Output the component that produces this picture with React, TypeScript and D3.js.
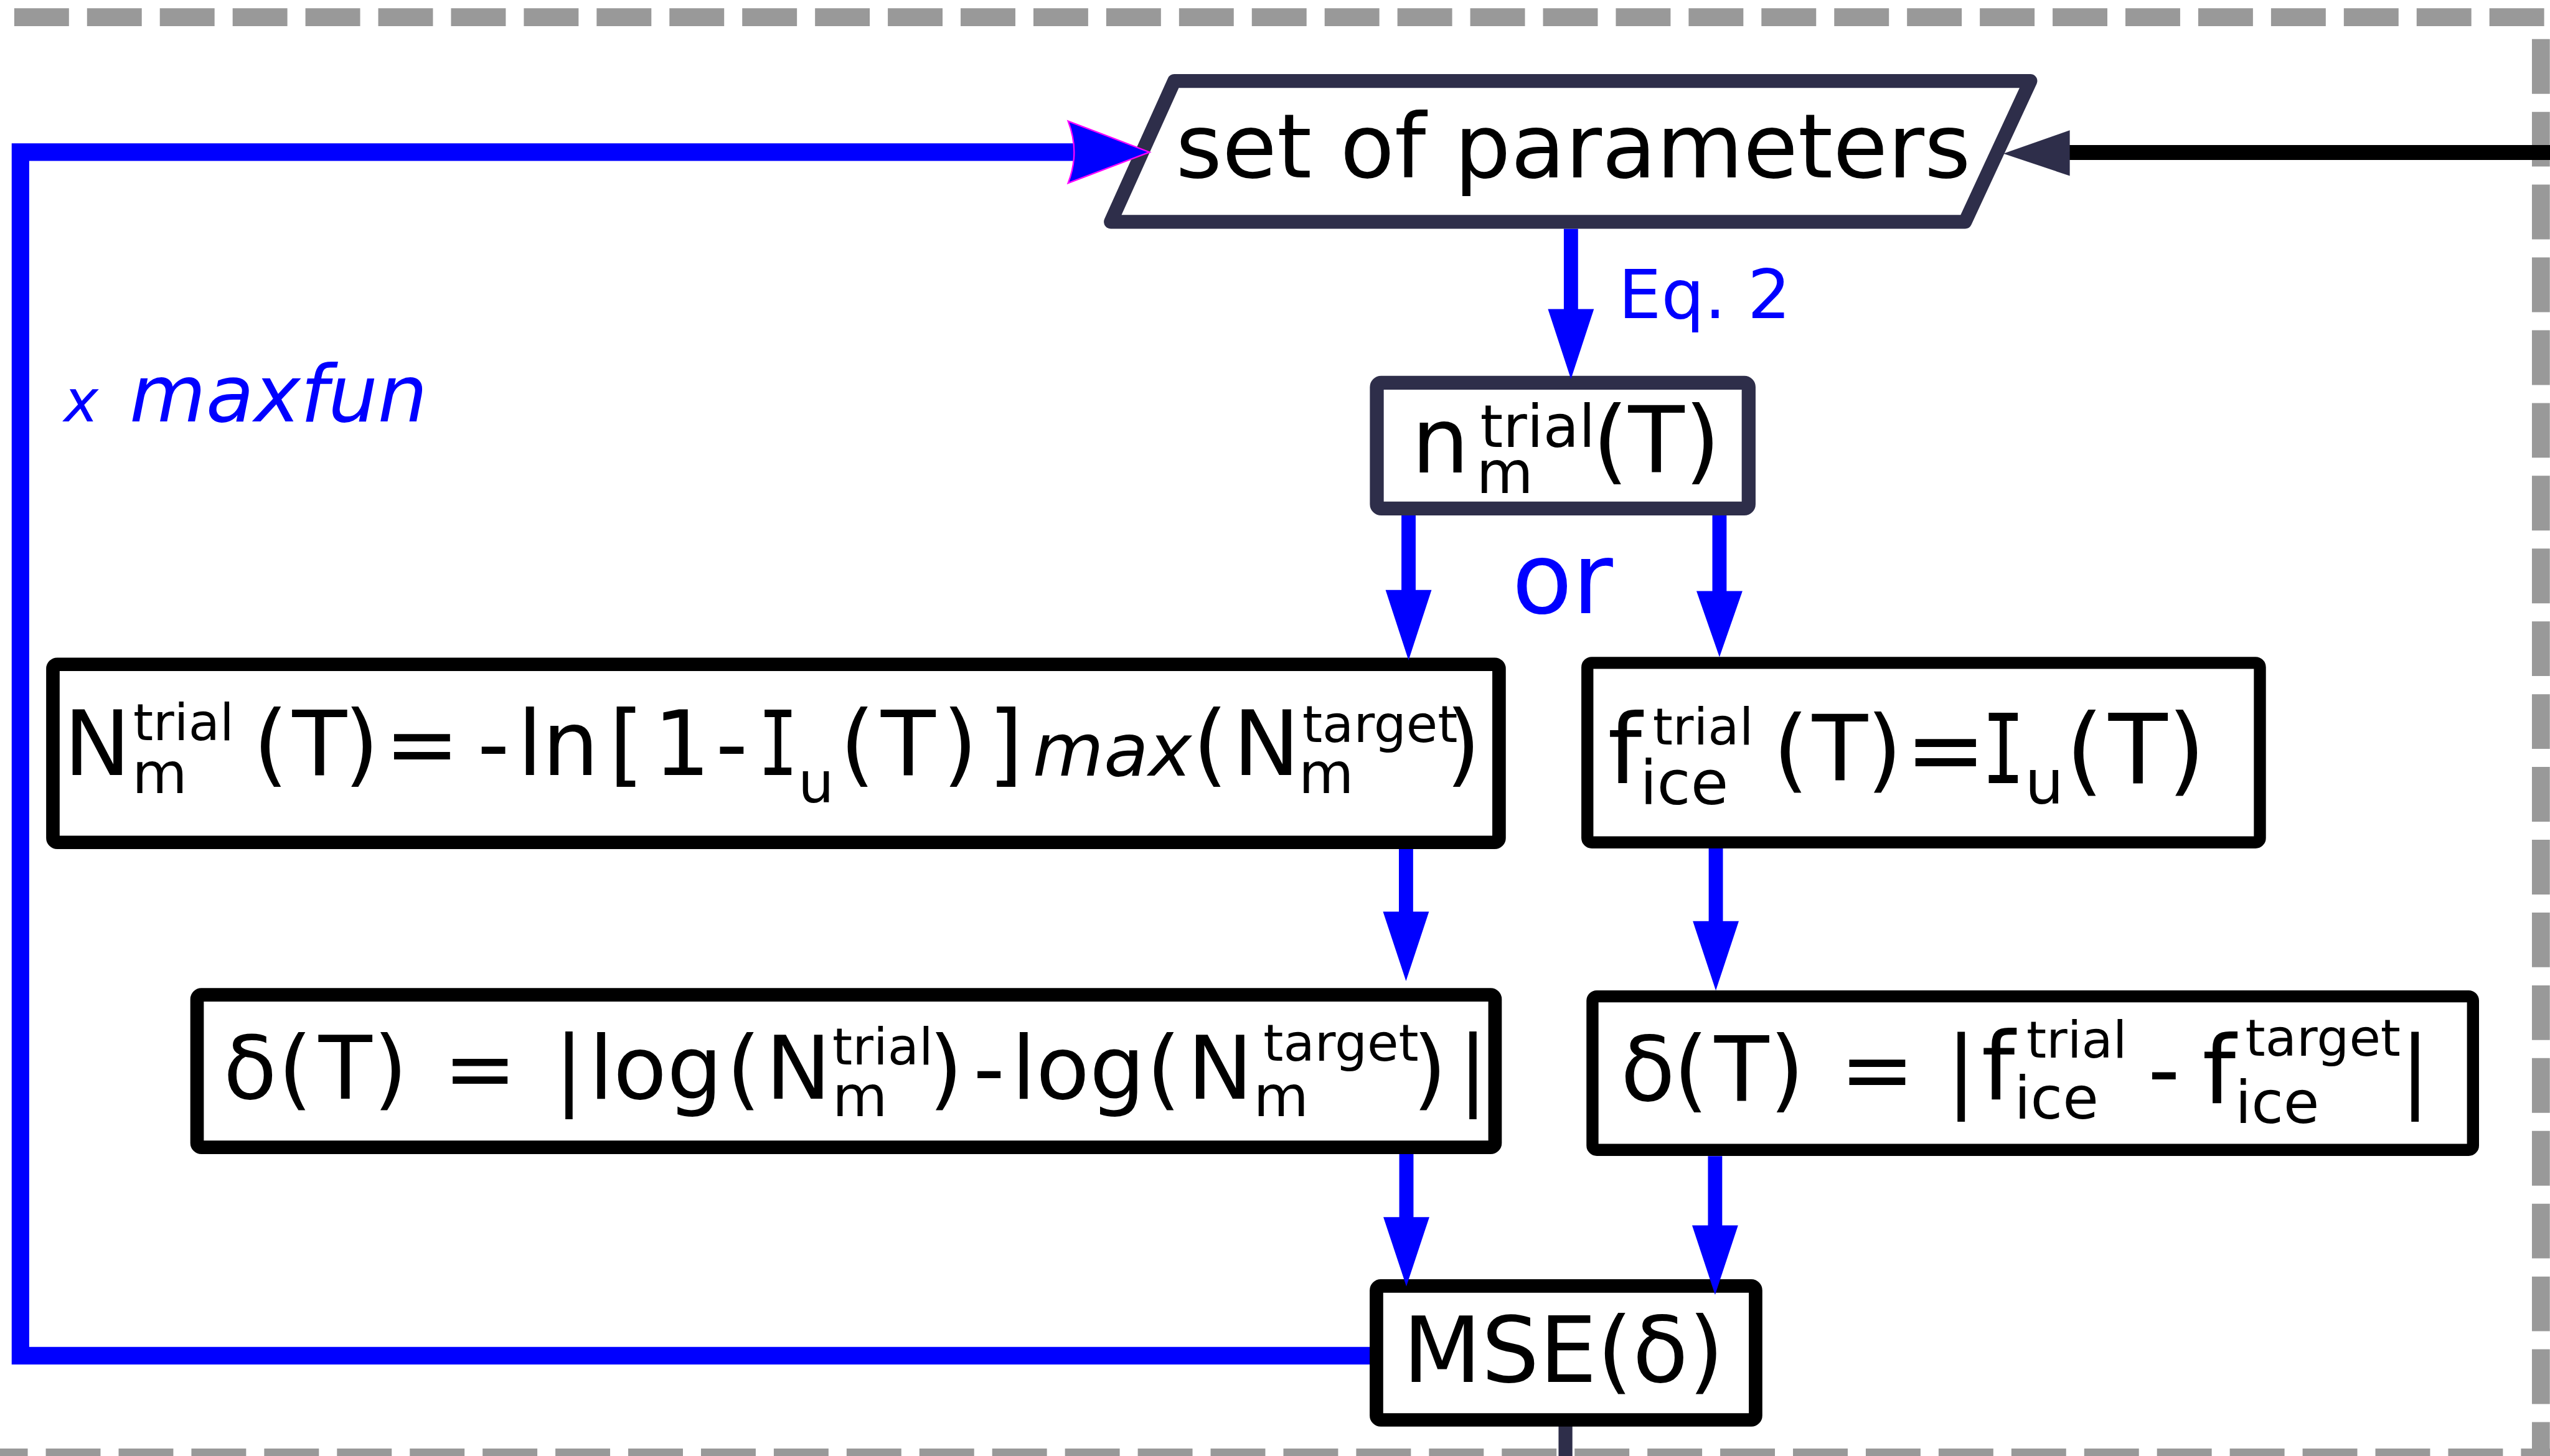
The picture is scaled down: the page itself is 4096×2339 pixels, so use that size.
import React, { useEffect, useRef } from "react";
import * as d3 from "d3";

const W = 4096;
const H = 2339;
const REF_W = 6988;
const REF_H = 3991;

const BLUE = "#0000ff";
const NAVY = "#2e2e4a";
const GREY = "#999999";
const MAGENTA = "#ff00ff";

// rounded boxes, centre line of the stroke in reference px
const boxes = [
  { id: "n", x0: 3773, y0: 1049, x1: 4792, y1: 1394, color: NAVY, sw: 38 },
  { id: "Ntrial", x0: 145, y0: 1821, x1: 4108, y1: 2309, color: "#000", sw: 37 },
  { id: "ftrial", x0: 4350, y0: 1817, x1: 6193, y1: 2309, color: "#000", sw: 33 },
  { id: "deltaN", x0: 540, y0: 2727, x1: 4097, y1: 3145, color: "#000", sw: 37 },
  { id: "deltaF", x0: 4364, y0: 2731, x1: 6777, y1: 3152, color: "#000", sw: 33 },
  { id: "mse", x0: 3772, y0: 3525, x1: 4811, y1: 3892, color: "#000", sw: 37 },
];

// "set of parameters" parallelogram
const paramShape = [
  [3218, 222],
  [5564, 222],
  [5385, 608],
  [3044, 608],
];

// blue down arrows: shaft from y0 to base, head to tip
const downArrows = [
  { x: 4305, y0: 627, base: 847, tip: 1039 },
  { x: 3860, y0: 1413, base: 1617, tip: 1810 },
  { x: 4712, y0: 1413, base: 1620, tip: 1801 },
  { x: 3853, y0: 2327, base: 2499, tip: 2689 },
  { x: 4702, y0: 2325, base: 2525, tip: 2715 },
  { x: 3854, y0: 3163, base: 3336, tip: 3526 },
  { x: 4700, y0: 3169, base: 3359, tip: 3549 },
];

// maxfun loop back to the parameters
const loopPts = [
  [2945, 417],
  [56, 417],
  [56, 3716],
  [3760, 3716],
];

// dashed frame pieces
const frameLines = [
  { pts: [[39, 47], [6988, 47]] },
  { pts: [[6963, 107], [6963, 3991]] },
  { pts: [[-74, 3995], [6988, 3995]] },
];

// text runs: [text, x, baseline, size, style]
const paramText = [["set of parameters", 3222, 487, 244]];
const nText = [
  ["n", 3868, 1295, 250],
  ["trial", 4056, 1225, 160],
  ["m", 4046, 1351, 160],
  ["(T)", 4364, 1295, 252],
];
const NText = [
  ["N", 175, 2125, 245],
  ["trial", 365, 2029, 140],
  ["m", 362, 2174, 155],
  ["(", 694, 2125, 245],
  ["T", 801, 2125, 245],
  [")", 943, 2125, 245],
  ["=", 1054, 2125, 245],
  ["-", 1308, 2125, 245],
  ["ln", 1418, 2125, 245],
  ["[", 1669, 2125, 245],
  ["1", 1791, 2125, 245],
  ["-", 1961, 2125, 245],
  ["I", 2132, 2125, 245, "mono"],
  ["u", 2187, 2200, 155],
  ["(", 2302, 2125, 245],
  ["T", 2414, 2125, 245],
  [")", 2583, 2125, 245],
  ["]", 2708, 2125, 245],
  ["max", 2830, 2126, 200, "i"],
  ["(", 3269, 2125, 245],
  ["N", 3379, 2125, 245],
  ["target", 3569, 2034, 140],
  ["m", 3559, 2174, 155],
  [")", 3962, 2125, 245],
];
const fText = [
  ["f", 4406, 2146, 265],
  ["trial", 4529, 2041, 140],
  ["ice", 4494, 2204, 168],
  ["(", 4859, 2140, 250],
  ["T", 4966, 2140, 250],
  [")", 5115, 2140, 250],
  ["=", 5221, 2146, 265],
  ["I", 5490, 2146, 265, "mono"],
  ["u", 5549, 2202, 168],
  ["(", 5661, 2146, 265],
  ["T", 5778, 2146, 265],
  [")", 5940, 2146, 265],
];
const dNText = [
  ["δ", 612, 3012, 240],
  ["(", 762, 3012, 240],
  ["T", 873, 3012, 240],
  [")", 1023, 3012, 240],
  ["=", 1215, 3012, 240],
  ["|", 1519, 3012, 240],
  ["log", 1614, 3012, 240],
  ["(", 1991, 3012, 240],
  ["N", 2098, 3012, 240],
  ["trial", 2281, 2917, 140],
  ["m", 2281, 3060, 155],
  [")", 2545, 3012, 240],
  ["-", 2667, 3012, 240],
  ["log", 2772, 3012, 240],
  ["(", 3142, 3012, 240],
  ["N", 3254, 3012, 240],
  ["target", 3462, 2908, 140],
  ["m", 3435, 3060, 155],
  [")", 3871, 3012, 240],
  ["|", 3996, 3012, 240],
];
const dFText = [
  ["δ", 4441, 3017, 245],
  ["(", 4586, 3017, 245],
  ["T", 4698, 3017, 245],
  [")", 4849, 3017, 245],
  ["=", 5042, 3017, 245],
  ["|", 5333, 3017, 245],
  ["f", 5430, 3013, 260],
  ["trial", 5553, 2899, 140],
  ["ice", 5520, 3067, 160],
  ["-", 5886, 3017, 245],
  ["f", 6035, 3024, 260],
  ["target", 6153, 2894, 140],
  ["ice", 6125, 3078, 160],
  ["|", 6577, 3017, 245],
];
const mseText = [["MSE(δ)", 3844, 3788, 250]];
const blueLabels = [
  ["Eq. 2", 4435, 872, 186],
  ["or", 4143, 1680, 271],
  ["x", 175, 1156, 160, "i"],
  ["maxfun", 355, 1156, 215, "i"],
];

export default function App() {
  const svgRef = useRef<SVGSVGElement>(null);

  useEffect(() => {
    const svg = d3.select(svgRef.current);
    svg.selectAll("*").remove();

    const x = d3.scaleLinear().domain([0, REF_W]).range([0, W]);
    const y = d3.scaleLinear().domain([0, REF_H]).range([0, H]);
    const k = W / REF_W;
    const line = d3
      .line<number[]>()
      .x((d) => x(d[0]))
      .y((d) => y(d[1]));

    svg.append("rect").attr("width", W).attr("height", H).attr("fill", "#fff");

    // dashed frame
    frameLines.forEach((f) => {
      svg
        .append("path")
        .attr("d", line(f.pts))
        .attr("fill", "none")
        .attr("stroke", GREY)
        .attr("stroke-width", 49 * k)
        .attr("stroke-dasharray", `${150 * k} ${49.5 * k}`);
    });

    // loop line
    svg
      .append("path")
      .attr("d", line(loopPts))
      .attr("fill", "none")
      .attr("stroke", BLUE)
      .attr("stroke-width", 48 * k)
      .attr("stroke-linejoin", "miter");

    // line coming in from the right
    svg
      .append("path")
      .attr("d", line([[5660, 418], [6988, 418]]))
      .attr("stroke", "#000")
      .attr("stroke-width", 41 * k);

    // line leaving MSE downward
    svg
      .append("path")
      .attr("d", line([[4290, 3905], [4290, 3991]]))
      .attr("stroke", NAVY)
      .attr("stroke-width", 38 * k);

    // arrow shafts
    downArrows.forEach((a) => {
      svg
        .append("path")
        .attr("d", line([[a.x, a.y0], [a.x, a.base + 2]]))
        .attr("stroke", BLUE)
        .attr("stroke-width", 39 * k);
    });

    // boxes
    boxes.forEach((b) => {
      svg
        .append("rect")
        .attr("x", x(b.x0))
        .attr("y", y(b.y0))
        .attr("width", x(b.x1) - x(b.x0))
        .attr("height", y(b.y1) - y(b.y0))
        .attr("rx", 12 * k)
        .attr("fill", "#fff")
        .attr("stroke", b.color)
        .attr("stroke-width", b.sw * k)
        .attr("stroke-linejoin", "round");
    });

    svg
      .append("path")
      .attr("d", line(paramShape) + "Z")
      .attr("fill", "#fff")
      .attr("stroke", NAVY)
      .attr("stroke-width", 38 * k)
      .attr("stroke-linejoin", "round");

    // arrow heads
    downArrows.forEach((a) => {
      const p = d3.path();
      p.moveTo(x(a.x - 63), y(a.base));
      p.lineTo(x(a.x + 63), y(a.base));
      p.lineTo(x(a.x), y(a.tip));
      p.closePath();
      svg.append("path").attr("d", p.toString()).attr("fill", BLUE);
    });

    const big = d3.path();
    big.moveTo(x(2927), y(332));
    big.lineTo(x(3150), y(417));
    big.lineTo(x(2927), y(502));
    big.quadraticCurveTo(x(2960), y(417), x(2927), y(332));
    big.closePath();
    svg
      .append("path")
      .attr("d", big.toString())
      .attr("fill", BLUE)
      .attr("stroke", MAGENTA)
      .attr("stroke-width", 4 * k);

    const back = d3.path();
    back.moveTo(x(5672), y(357));
    back.lineTo(x(5490), y(421));
    back.lineTo(x(5672), y(482));
    back.closePath();
    svg.append("path").attr("d", back.toString()).attr("fill", NAVY);

    // text
    const drawText = (runs: any[], color: string) => {
      runs.forEach((r) => {
        const style = r[4];
        if (style === "mono") {
          // serif capital I, narrowed to the width of the original glyph
          svg
            .append("text")
            .attr("transform", `translate(${x(r[1])},${y(r[2])}) scale(0.74,1)`)
            .attr("font-size", r[3] * k)
            .attr("font-family", "DejaVu Sans Mono")
            .attr("text-anchor", "middle")
            .attr("fill", color)
            .text(r[0]);
          return;
        }
        svg
          .append("text")
          .attr("x", x(r[1]))
          .attr("y", y(r[2]))
          .attr("font-size", r[3] * k)
          .attr("font-family", "DejaVu Sans")
          .attr("font-style", style === "i" ? "italic" : "normal")
          .attr("fill", color)
          .text(r[0]);
      });
    };

    [paramText, nText, NText, fText, dNText, dFText, mseText].forEach((t) =>
      drawText(t, "#000")
    );
    drawText(blueLabels, BLUE);
  }, []);

  return (
    <svg
      ref={svgRef}
      width={W}
      height={H}
      style={{ position: "absolute", left: 0, top: 0, display: "block" }}
    ></svg>
  );
}
